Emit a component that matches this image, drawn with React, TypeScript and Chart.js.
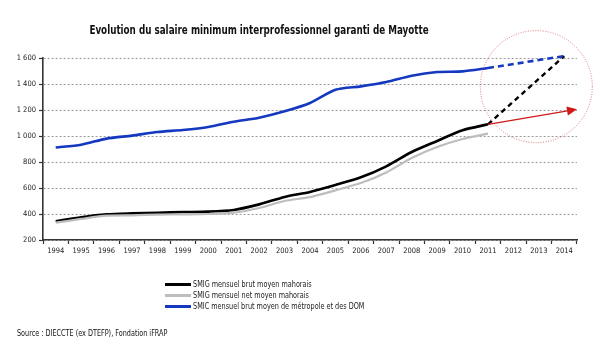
import React, { useEffect, useRef } from "react";
import { Chart, registerables } from "chart.js";

Chart.register(...registerables);

const TITLE = "Evolution du salaire minimum interprofessionnel garanti de Mayotte";
const SOURCE = "Source : DIECCTE (ex DTEFP), Fondation iFRAP";

const YEARS = [
  "1994", "1995", "1996", "1997", "1998", "1999", "2000", "2001", "2002", "2003", "2004",
  "2005", "2006", "2007", "2008", "2009", "2010", "2011", "2012", "2013", "2014",
];

const SMIG_BRUT = [344, 375, 397, 405, 410, 415, 418, 431, 474, 531, 570, 623, 682, 767, 877, 962, 1044, 1090, null, null, null];
const SMIG_NET = [333, 362, 387, 390, 395, 397, 400, 410, 446, 500, 530, 582, 638, 720, 831, 915, 977, 1018, null, null, null];
const SMIC_METRO = [912, 933, 980, 1003, 1031, 1046, 1069, 1110, 1141, 1190, 1254, 1356, 1382, 1415, 1464, 1492, 1497, 1523, null, null, null];
const SMIG_BRUT_PROJ = [null, null, null, null, null, null, null, null, null, null, null, null, null, null, null, null, null, 1090, null, null, 1615];
const SMIC_METRO_PROJ = [null, null, null, null, null, null, null, null, null, null, null, null, null, null, null, null, null, 1523, null, null, 1615];

const LEGEND = [
  { label: "SMIG mensuel brut moyen mahorais", color: "#000000" },
  { label: "SMIG mensuel net moyen mahorais", color: "#bdbdbd" },
  { label: "SMIC mensuel brut moyen de métropole et des DOM", color: "#1438c0" },
];

const ARROW_START_INDEX = 17;
const ARROW_START_VALUE = 1090;
const ARROW_END_VALUE = 1205;
const CIRCLE_CENTER_INDEX = 18.9;
const CIRCLE_CENTER_VALUE = 1380;

const FONT = "'Liberation Sans Narrow', 'Arial Narrow', 'DejaVu Sans Condensed', sans-serif";

const annotationPlugin = {
  id: "annot",
  afterDatasetsDraw(chart: any) {
    const { ctx, scales, chartArea } = chart;
    const x = scales.x;
    const y = scales.y;
    const x0 = x.getPixelForValue(ARROW_START_INDEX);
    const y0 = y.getPixelForValue(ARROW_START_VALUE);
    const x1 = chartArea.right;
    const y1 = y.getPixelForValue(ARROW_END_VALUE);
    ctx.save();
    ctx.strokeStyle = "#d01818";
    ctx.fillStyle = "#d01818";
    ctx.lineWidth = 1.3;
    ctx.beginPath();
    ctx.moveTo(x0, y0);
    ctx.lineTo(x1 - 8, y1 + (y0 - y1) * 8 / (x1 - x0));
    ctx.stroke();
    const ang = Math.atan2(y1 - y0, x1 - x0);
    ctx.beginPath();
    ctx.moveTo(x1, y1);
    ctx.lineTo(x1 - 10 * Math.cos(ang) + 4.5 * Math.sin(ang), y1 - 10 * Math.sin(ang) - 4.5 * Math.cos(ang));
    ctx.lineTo(x1 - 10 * Math.cos(ang) - 4.5 * Math.sin(ang), y1 - 10 * Math.sin(ang) + 4.5 * Math.cos(ang));
    ctx.closePath();
    ctx.fill();
    const cx = x.getPixelForValue(CIRCLE_CENTER_INDEX);
    const cy = y.getPixelForValue(CIRCLE_CENTER_VALUE);
    ctx.strokeStyle = "rgba(215,60,60,0.85)";
    ctx.lineWidth = 0.8;
    ctx.setLineDash([1, 1.5]);
    ctx.beginPath();
    ctx.arc(cx, cy, 56, 0, Math.PI * 2);
    ctx.stroke();
    ctx.restore();
  },
};

function fmt(v: number) {
  if (v >= 1000) {
    return `${Math.floor(v / 1000)} ${String(v % 1000).padStart(3, "0")}`;
  }
  return String(v);
}

export default function App() {
  const ref = useRef<HTMLCanvasElement | null>(null);

  useEffect(() => {
    if (!ref.current) return;
    const chart = new Chart(ref.current, {
      type: "line",
      data: {
        labels: YEARS,
        datasets: [
          { label: "blue", data: SMIC_METRO, borderColor: "#1438c0", borderWidth: 2.6, tension: 0.25, pointRadius: 0 },
          { label: "blueproj", data: SMIC_METRO_PROJ, borderColor: "#1438c0", borderWidth: 2.6, borderDash: [6, 4], spanGaps: true, pointRadius: 0, clip: false },
          { label: "gray", data: SMIG_NET, borderColor: "#bdbdbd", borderWidth: 2.2, tension: 0.25, pointRadius: 0 },
          { label: "black", data: SMIG_BRUT, borderColor: "#000000", borderWidth: 2.6, tension: 0.25, pointRadius: 0 },
          { label: "blackproj", data: SMIG_BRUT_PROJ, borderColor: "#000000", borderWidth: 2.4, borderDash: [5, 4], spanGaps: true, pointRadius: 0, clip: false },
        ] as any,
      },
      options: {
        responsive: false,
        animation: false,
        layout: { padding: { top: 58, right: 23, bottom: 91, left: 0 } },
        plugins: { legend: { display: false }, tooltip: { enabled: false }, title: { display: false } },
        scales: {
          x: {
            offset: true,
            afterFit: (s: any) => { s.height = 20; },
            grid: { offset: true, drawOnChartArea: false, drawTicks: true, tickLength: 4, tickColor: "#333", tickWidth: 1.2 },
            border: { color: "#333", width: 1.6 },
            ticks: { color: "#222", font: { family: FONT, size: 7.5 }, padding: 3, maxRotation: 0, autoSkip: false },
          },
          y: {
            min: 200,
            max: 1600,
            afterFit: (s: any) => { s.width = 43; },
            grid: { color: "#999999", lineWidth: 1, drawTicks: true, tickLength: 4, tickColor: "#333", tickWidth: 1.2 },
            border: { color: "#333", width: 1.6, dash: [2, 2] },
            ticks: { stepSize: 200, color: "#222", font: { family: FONT, size: 7.5 }, padding: 3, callback: (v: any) => fmt(Number(v)) },
          },
        },
      },
      plugins: [annotationPlugin],
    });
    return () => chart.destroy();
  }, []);

  return (
    <div style={{ position: "fixed", left: 0, top: 0, width: 600, height: 351, background: "#fff", overflow: "hidden" }}>
      <canvas ref={ref} width={600} height={351} style={{ position: "absolute", left: 0, top: 0 }} />
      <div style={{ position: "absolute", left: 259, top: 22, transform: "translateX(-50%) scaleX(0.78)", fontFamily: FONT, fontWeight: "bold", fontSize: 12.5, color: "#111", whiteSpace: "nowrap" }}>
        {TITLE}
      </div>
      {LEGEND.map((l, i) => (
        <div key={i} style={{ position: "absolute", left: 165, top: 278 + i * 11, height: 12, display: "flex", alignItems: "center", whiteSpace: "nowrap" }}>
          <span style={{ display: "inline-block", width: 26, height: 3, background: l.color, marginRight: 2 }} />
          <span style={{ display: "inline-block", fontFamily: FONT, fontSize: 8.5, color: "#222", transform: "scaleX(0.85)", transformOrigin: "left center" }}>{l.label}</span>
        </div>
      ))}
      <div style={{ position: "absolute", left: 17, top: 328, fontFamily: FONT, fontSize: 9, color: "#111", whiteSpace: "nowrap", transform: "scaleX(0.8)", transformOrigin: "left center" }}>
        {SOURCE}
      </div>
    </div>
  );
}
